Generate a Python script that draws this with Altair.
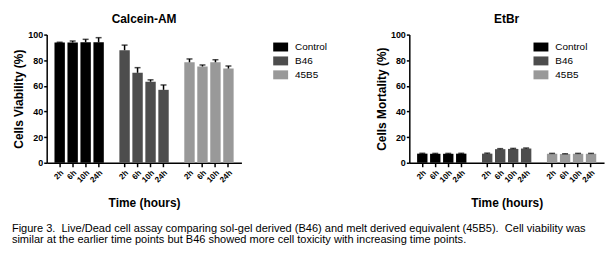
import altair as alt
import pandas as pd

groups = ["Control", "B46", "45B5"]
times = ["2h", "6h", "10h", "24h"]
group_colors = ["#000000", "#4d4d4d", "#999999"]

# Calcein-AM (cell viability %)
viab_control = [93.8, 93.8, 94.0, 94.0]
viab_control_err = [0.3, 1.2, 2.3, 3.6]
viab_b46 = [87.8, 70.2, 63.2, 56.9]
viab_b46_err = [4.0, 4.0, 1.5, 3.8]
viab_45b5 = [78.4, 75.1, 78.4, 73.5]
viab_45b5_err = [2.6, 1.2, 2.0, 2.0]

# EtBr (cell mortality %)
mort_control = [7.1, 7.0, 7.0, 7.1]
mort_control_err = [0.3, 0.3, 0.3, 0.3]
mort_b46 = [7.1, 10.6, 10.8, 11.1]
mort_b46_err = [0.4, 0.4, 0.4, 0.4]
mort_45b5 = [7.0, 6.8, 7.0, 7.0]
mort_45b5_err = [0.3, 0.2, 0.3, 0.3]

y_ticks = [0, 20, 40, 60, 80, 100]

caption = [
    "Figure 3.\u00a0 Live/Dead cell assay comparing sol-gel derived (B46) and melt derived equivalent (45B5).\u00a0 Cell viability was",
    "similar at the earlier time points but B46 showed more cell toxicity with increasing time points.",
]

FONT = "Liberation Sans"

slots = [f"{g}|{t}" for g in groups for t in times]
domain = (slots[0:4] + ["gap1"] + slots[4:8] + ["gap2"] + slots[8:12])


def make_df(series, errs):
    rows = []
    for g, vals, es in zip(groups, series, errs):
        for t, v, e in zip(times, vals, es):
            rows.append({"slot": f"{g}|{t}", "group": g, "time": t, "value": v, "err": e})
    return pd.DataFrame(rows)


def panel(df, title, ytitle, lx, ly):
    base = alt.Chart(df).transform_calculate(upper="datum.value + datum.err")
    xscale = alt.Scale(domain=domain, paddingInner=0.2, paddingOuter=0.6)
    xaxis = alt.Axis(
        values=slots,
        labelExpr="split(datum.value, '|')[1]",
        labelAngle=315,
        labelFontSize=8,
        tickSize=4,
        labelPadding=2,
        labelOverlap=False,
        title="Time (hours)",
        titlePadding=14,
    )
    yscale = alt.Scale(domain=[0, 100], nice=False)
    yaxis = alt.Axis(
        values=y_ticks,
        tickSize=3,
        labelFontSize=9,
        labelPadding=1,
        labelOverlap=False,
        labelFlush=False,
        title=ytitle,
        titlePadding=2,
    )
    x = alt.X("slot:N", scale=xscale, axis=xaxis)
    bars = base.mark_bar().encode(
        x=x,
        y=alt.Y("value:Q", scale=yscale, axis=yaxis),
        color=alt.Color(
            "group:N",
            scale=alt.Scale(domain=groups, range=group_colors),
            legend=alt.Legend(
                title=None,
                orient="none",
                legendX=lx,
                legendY=ly,
                symbolType="M-1,-0.6H1V0.6H-1Z",
                symbolSize=225,
                symbolStrokeWidth=0,
                symbolOpacity=1,
                labelFont=FONT,
                labelFontSize=10,
                labelColor="#000000",
                labelOffset=7,
                rowPadding=1,
                padding=0,
            ),
        ),
    )
    rule = base.mark_rule(color="#000000", strokeWidth=1.5).encode(
        x=x,
        y=alt.Y("value:Q", scale=yscale, axis=yaxis),
        y2="upper:Q",
    )
    cap = base.mark_tick(color="#000000", size=6, thickness=1.5).encode(
        x=x,
        y=alt.Y("upper:Q", scale=yscale, axis=yaxis),
    )
    return alt.layer(bars, rule, cap).properties(
        width=196,
        height=129,
        title=alt.TitleParams(
            text=title,
            font=FONT,
            fontSize=12,
            fontWeight="bold",
            color="#000000",
            anchor="middle",
            frame="group",
            offset=5,
        ),
    )


df_v = make_df([viab_control, viab_b46, viab_45b5], [viab_control_err, viab_b46_err, viab_45b5_err])
df_m = make_df([mort_control, mort_b46, mort_45b5], [mort_control_err, mort_b46_err, mort_45b5_err])

left = panel(df_v, "Calcein-AM", "Cells Viability (%)", 228, 5)
right = panel(df_m, "EtBr", "Cells Mortality (%)", 125, 5)

chart = (
    alt.hconcat(left, right, spacing=169, bounds="flush")
    .resolve_scale(color="independent")
    .properties(
        title=alt.TitleParams(
            text=caption,
            orient="bottom",
            anchor="start",
            font=FONT,
            fontSize=11.1,
            fontWeight="normal",
            color="#000000",
            lineHeight=11.3,
            offset=14,
            dx=-1,
        ),
        padding={"left": 11, "top": 12, "right": 5, "bottom": 5},
    )
    .configure_view(stroke=None)
    .configure_axis(
        grid=False,
        labelOverlap=False,
        domainColor="#000000",
        domainWidth=1.5,
        tickColor="#000000",
        tickWidth=1.5,
        labelFont=FONT,
        labelFontWeight="bold",
        labelColor="#000000",
        titleFont=FONT,
        titleFontWeight="bold",
        titleFontSize=12,
        titleColor="#000000",
    )
)

chart.save("out.html", embed_options={"renderer": "svg", "actions": False})
